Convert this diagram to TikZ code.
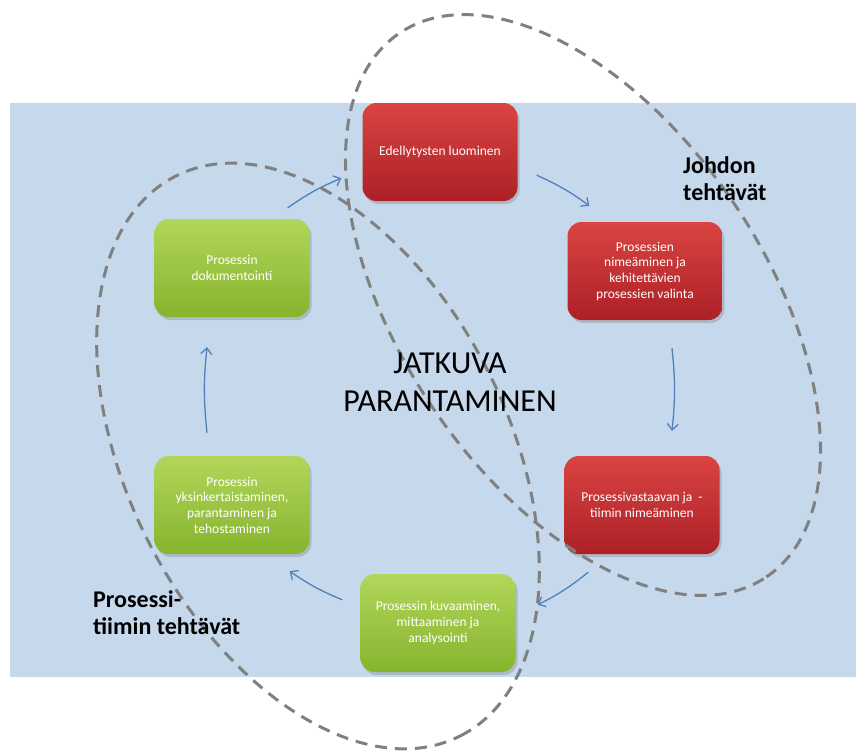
\documentclass[tikz,border=0pt]{standalone}
\usepackage{fontspec}
\setmainfont{Carlito}
\usetikzlibrary{arrows.meta,shadows}

\definecolor{taustasin}{RGB}{198,216,236}
\definecolor{punainenyla}{RGB}{218,68,66}
\definecolor{punainenala}{RGB}{172,32,38}
\definecolor{vihreayla}{RGB}{178,214,90}
\definecolor{vihreaala}{RGB}{134,180,46}
\definecolor{nuolisin}{RGB}{79,129,189}
\definecolor{rajasin}{RGB}{128,128,128}

\begin{document}
\begin{tikzpicture}[x=1pt,y=-1pt,
    vaihe/.style={rounded corners=14pt, minimum width=155pt, minimum height=98pt,
        align=center, text=white, font=\fontsize{13.5}{15.7}\selectfont,
        drop shadow={shadow xshift=2pt, shadow yshift=-3pt, opacity=0.35}},
    johto/.style={vaihe, top color=punainenyla, bottom color=punainenala},
    tiimi/.style={vaihe, top color=vihreayla, bottom color=vihreaala},
    nuoli/.style={-{Straight Barb[length=6pt,width=11pt]}, draw=nuolisin, line width=1.3pt, bend left=6},
    raja/.style={draw=rajasin, line width=3pt, dash pattern=on 12pt off 8pt}]
  \useasboundingbox (0,0) rectangle (856,752);
  \fill[taustasin] (10,103) rectangle (856,677);
  % vaiheet
  \node[johto] (edell) at (440,152) {Edellytysten luominen};
  \node[johto] (nimea) at (645,271) {Prosessien\\nimeäminen ja\\kehitettävien\\prosessien valinta};
  \node[johto] (vastaava) at (642,505) {Prosessivastaavan ja~~-\\tiimin nimeäminen};
  \node[tiimi] (kuvaus) at (438,623) {Prosessin kuvaaminen,\\mittaaminen ja\\analysointi};
  \node[tiimi] (parannus) at (232,505) {Prosessin\\yksinkertaistaminen,\\parantaminen ja\\tehostaminen};
  \node[tiimi] (dokum) at (232,268) {Prosessin\\dokumentointi};
  % kierto
  \draw[nuoli] ([shift={(-22,-11)}]dokum.north east) to ([shift={(-21,-23)}]edell.south west);
  \draw[nuoli] ([shift={(19,-26)}]edell.south east) to ([shift={(22,-16)}]nimea.north west);
  \draw[nuoli] ([shift={(27,28)}]nimea.south) to ([shift={(30,-25)}]vastaava.north);
  \draw[nuoli] ([shift={(24,18)}]vastaava.south west) to ([shift={(22,31)}]kuvaus.north east);
  \draw[nuoli] ([shift={(-18,26)}]kuvaus.north west) to ([shift={(-20,17)}]parannus.south east);
  \draw[nuoli] ([shift={(-25,-23)}]parannus.north) to ([shift={(-25,30)}]dokum.south);
  % vastuualueet
  \draw[raja, rotate around={-56:(583,305)}] (583,305) ellipse [x radius=328pt, y radius=182pt];
  \draw[raja, rotate around={-63:(318,456)}] (318,456) ellipse [x radius=314pt, y radius=190pt];
  \node[font=\fontsize{32}{38}\selectfont, align=center] (jatkuva) at (450,382) {JATKUVA\\PARANTAMINEN};
  \node[font=\bfseries\fontsize{24}{27}\selectfont, align=left, anchor=north west, inner sep=0pt] (johdon) at (683,156) {Johdon\\tehtävät};
  \node[font=\bfseries\fontsize{24}{27}\selectfont, align=left, anchor=north west, inner sep=0pt] (tiimin) at (93,590) {Prosessi-\\tiimin tehtävät};
\end{tikzpicture}
\end{document}
